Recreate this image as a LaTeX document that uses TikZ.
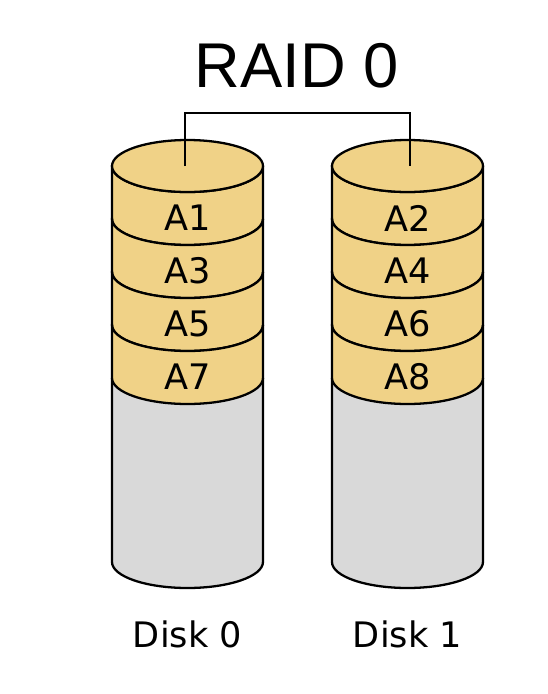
\documentclass[tikz,border=0pt]{standalone}
\usepackage{fontspec}
\setmainfont{DejaVu Sans}
\newfontfamily\titlefont{Liberation Sans}
\definecolor{stripe}{HTML}{F0D287}
\definecolor{spare}{HTML}{D9D9D9}

\begin{document}
\begin{tikzpicture}[x=0.02cm,y=-0.02cm,line width=1.3pt,
	band/.style={fill=stripe,draw=black},
	lbl/.style={font=\fontsize{20}{22}\selectfont,inner sep=0pt}]
	\useasboundingbox (0,0) rectangle (548,694);
	\newcommand{\RX}{1.51cm}
	\newcommand{\RY}{0.52cm}
	\foreach \n/\cx/\tx in {0/187.5/185,1/407.5/410}{
		% empty part of the disk
		\filldraw[fill=spare] ({\cx-75.5},378) -- ({\cx-75.5},562) arc[start angle=180,end angle=360,x radius=\RX,y radius=\RY] -- ({\cx+75.5},378);
		% striped blocks
		\foreach \k in {0,...,3}{
			\pgfmathsetmacro{\yt}{166+53*\k}
			\pgfmathtruncatemacro{\blk}{2*\k+\n+1}
			\filldraw[band] ({\cx-75.5},{\yt}) -- ({\cx-75.5},{\yt+53}) arc[start angle=180,end angle=360,x radius=\RX,y radius=\RY] -- ({\cx+75.5},{\yt}) arc[start angle=0,end angle=-180,x radius=\RX,y radius=\RY] -- cycle;
			\node[lbl] (a\blk) at (\cx,{\yt+52}) {A\blk};
		}
		\filldraw[band] (\cx,166) ellipse[x radius=\RX,y radius=\RY];
		\coordinate (top\n) at (\tx,166);
		\node[lbl] (disk\n) at (\cx,634.5) {Disk \n};
	}
	\node[font=\titlefont\fontsize{36}{40}\selectfont,inner sep=0pt] (title) at (296.5,66) {RAID 0};
	\coordinate (bus) at (297,113);
	\draw (top0) |- (bus) -| (top1);
\end{tikzpicture}
\end{document}
